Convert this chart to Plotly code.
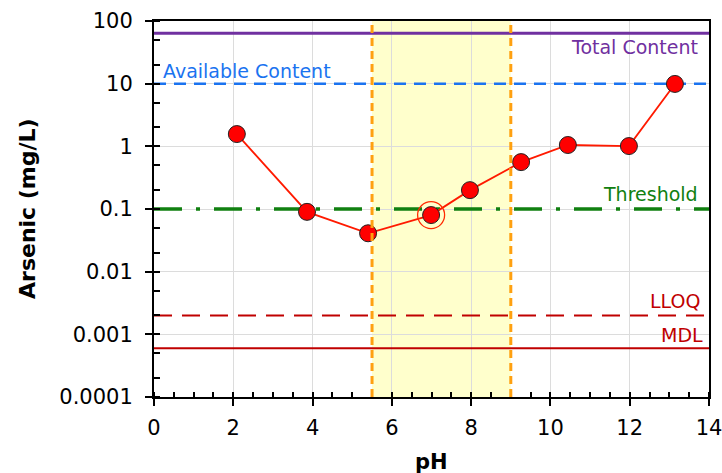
import math
import plotly.graph_objects as go

# Arsenic leaching vs pH
ph = [2.09, 3.86, 5.40, 6.99, 7.97, 9.26, 10.44, 11.98, 13.14]
arsenic = [1.57, 0.09, 0.041, 0.08, 0.20, 0.56, 1.05, 1.01, 9.9]

# reference levels (mg/L)
ref_names = ["Total Content", "Available Content", "Threshold", "LLOQ", "MDL"]
ref_values = [64, 10, 0.1, 0.002, 0.0006]

# neutral pH band
band = [5.5, 9.0]

y_tickvals = [0.0001, 0.001, 0.01, 0.1, 1, 10, 100]
y_ticktext = ["0.0001", "0.001", "0.01", "0.1", "1", "10", "100"]
x_tickvals = [0, 2, 4, 6, 8, 10, 12, 14]

FONT = "DejaVu Sans"

ref_styles = {
    "Total Content": dict(color="#7030a0", width=3, dash="solid"),
    "Available Content": dict(color="#1a73f0", width=2.5, dash="12px,8px"),
    "Threshold": dict(color="#108010", width=3.5, dash="28px,14px,4px,14px"),
    "LLOQ": dict(color="#c00000", width=2, dash="18px,10px"),
    "MDL": dict(color="#c00000", width=2, dash="solid"),
}

fig = go.Figure()

for name, val in zip(ref_names, ref_values):
    fig.add_trace(go.Scatter(
        x=[0, 14], y=[val, val], mode="lines",
        line=ref_styles[name], hoverinfo="skip", showlegend=False,
    ))

fig.add_trace(go.Scatter(
    x=ph, y=arsenic, mode="lines+markers",
    line=dict(color="#ff1a00", width=1.8),
    marker=dict(size=17, color="#ff0000", line=dict(color="#222222", width=1)),
    showlegend=False,
))

# highlight ring around the pH 7 sample
fig.add_trace(go.Scatter(
    x=[ph[3]], y=[arsenic[3]], mode="markers",
    marker=dict(size=27, color="rgba(0,0,0,0)", line=dict(color="#ff2a00", width=1.3)),
    showlegend=False, hoverinfo="skip",
))

# shaded band and its borders
fig.add_shape(type="rect", xref="x", yref="paper", x0=band[0], x1=band[1], y0=0, y1=1,
              fillcolor="#ffffcc", line=dict(width=0), layer="below")
for xb in band:
    fig.add_shape(type="line", xref="x", yref="paper", x0=xb, x1=xb, y0=0, y1=1,
                  line=dict(color="#ffa010", width=3, dash="8px,5px"), layer="above")

label_colors = {
    "Total Content": "#7030a0",
    "Available Content": "#1a73f0",
    "Threshold": "#108010",
    "LLOQ": "#c00000",
    "MDL": "#c00000",
}
label_pos = {
    "Total Content": dict(x=14, xanchor="right", xshift=-9, yanchor="top", yshift=-1),
    "Available Content": dict(x=0, xanchor="left", xshift=7, yanchor="bottom", yshift=0),
    "Threshold": dict(x=14, xanchor="right", xshift=-9, yanchor="bottom", yshift=2),
    "LLOQ": dict(x=14, xanchor="right", xshift=-7, yanchor="bottom", yshift=1),
    "MDL": dict(x=14, xanchor="right", xshift=-4, yanchor="bottom", yshift=0),
}
for name, val in zip(ref_names, ref_values):
    fig.add_annotation(text=name, y=math.log10(val), xref="x", yref="y",
                       showarrow=False, font=dict(family=FONT, size=19, color=label_colors[name]),
                       **label_pos[name])

# axis titles, placed in paper units relative to the plot area (555 x 376 px)
fig.add_annotation(text="<b>pH</b>", x=0.5, xref="paper", y=-(462 - 397) / 376, yref="paper",
                   yanchor="middle", showarrow=False, font=dict(family=FONT, size=21))
fig.add_annotation(text="<b>Arsenic (mg/L)</b>", textangle=-90,
                   x=-(154 - 27) / 555, xref="paper", xanchor="center", y=0.5, yref="paper",
                   showarrow=False, font=dict(family=FONT, size=22))

fig.update_layout(
    width=722, height=473,
    margin=dict(l=154, r=13, t=21, b=76, autoexpand=False),
    paper_bgcolor="white", plot_bgcolor="white",
    font=dict(family=FONT, size=21, color="black"),
    showlegend=False,
)
fig.update_xaxes(
    range=[0, 14], tickvals=x_tickvals, automargin=False, ticklabeloverflow="allow",
    showgrid=True, gridcolor="#dcdcdc", gridwidth=1,
    showline=True, linecolor="black", linewidth=2, mirror=True,
    ticks="outside", ticklen=7, tickwidth=2, tickcolor="black",
    minor=dict(ticks="inside", dtick=0.5, ticklen=5, tickwidth=1.5, tickcolor="black", showgrid=False),
    zeroline=False, ticklabelstandoff=4,
    tickfont=dict(family=FONT, size=21),
)
fig.update_yaxes(
    type="log", range=[-4, 2], tickvals=y_tickvals, ticktext=y_ticktext, automargin=False,
    showgrid=True, gridcolor="#dcdcdc", gridwidth=1,
    showline=True, linecolor="black", linewidth=2, mirror=True,
    ticks="outside", ticklen=7, tickwidth=2, tickcolor="black",
    minor=dict(ticks="inside", ticklen=6, tickwidth=1.5, tickcolor="black", showgrid=False),
    zeroline=False, ticklabelstandoff=8,
    tickfont=dict(family=FONT, size=21),
)

fig.write_html("out.html")
